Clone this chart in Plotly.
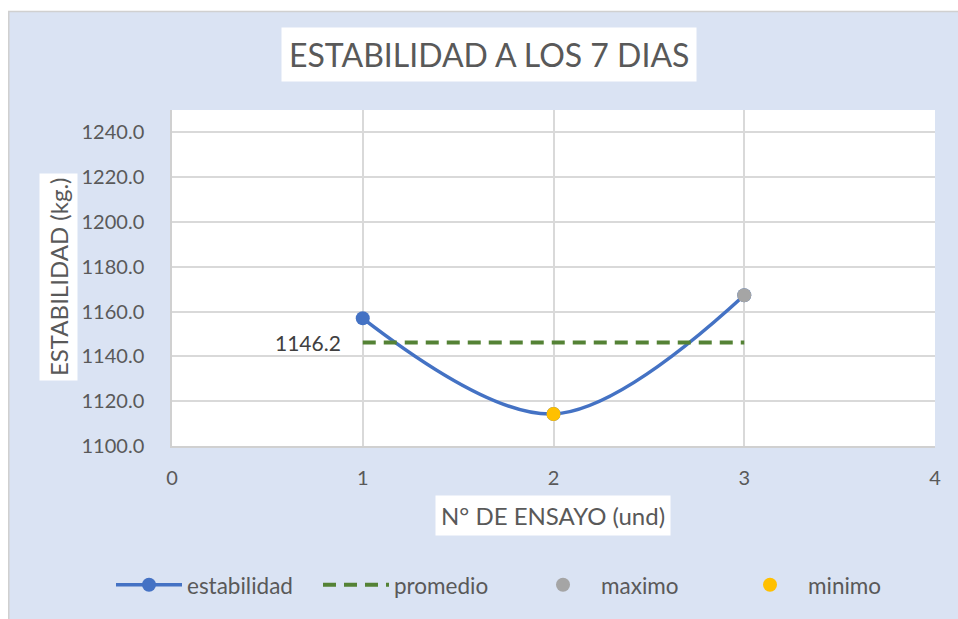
import plotly.graph_objects as go

# ---- data ----
ensayo = [1, 2, 3]
estabilidad = [1157.0, 1114.3, 1167.3]
promedio = [1146.2, 1146.2, 1146.2]
maximo_x = [3]
maximo_y = [1167.3]
minimo_x = [2]
minimo_y = [1114.3]
x_ticks = [0, 1, 2, 3, 4]
y_ticks = [1100, 1120, 1140, 1160, 1180, 1200, 1220, 1240]

W, H = 958, 619
L, R, T, B = 172, 935, 110, 448  # plot area pixels
pw, ph = R - L, B - T

def px(x):  # page pixel -> paper x
    return (x - L) / pw

def py(y):  # page pixel -> paper y
    return (B - y) / ph

FONT = "Lato"
GREY = "#595959"
BG = "#DAE3F3"

fig = go.Figure()

fig.add_trace(go.Scatter(
    x=ensayo, y=estabilidad, name="estabilidad", mode="lines+markers",
    line=dict(color="#4472C4", width=3.5, shape="spline", smoothing=1),
    marker=dict(color="#4472C4", size=14),
))
fig.add_trace(go.Scatter(
    x=ensayo, y=promedio, name="promedio", mode="lines",
    line=dict(color="#548235", width=4, dash="13px,8px"),
))
fig.add_trace(go.Scatter(
    x=maximo_x, y=maximo_y, name="maximo", mode="markers",
    marker=dict(color="#A5A5A5", size=14),
))
fig.add_trace(go.Scatter(
    x=minimo_x, y=minimo_y, name="minimo", mode="markers",
    marker=dict(color="#FFC000", size=14),
))

# data label of the average
fig.add_annotation(
    x=ensayo[0], y=promedio[0], xref="x", yref="y", text=f"{promedio[0]:.1f}",
    showarrow=False, xanchor="right", yanchor="middle", xshift=-20,
    font=dict(family=FONT, size=21, color="#404040"),
)

fig.update_layout(
    width=W, height=H,
    margin=dict(l=L, r=W - R, t=T, b=H - B, pad=0),
    paper_bgcolor=BG,
    plot_bgcolor="white",
    font=dict(family=FONT, size=20, color=GREY),
    showlegend=True,
    legend=dict(
        orientation="h", x=px(111), xanchor="left", y=py(588), yanchor="middle",
        bgcolor="rgba(0,0,0,0)", font=dict(family=FONT, size=22.5, color=GREY),
        entrywidth=126, entrywidthmode="pixels", itemwidth=66,
    ),
    xaxis=dict(
        range=[0, 4], tickvals=x_ticks, showgrid=True, gridcolor="#D9D9D9",
        gridwidth=1.5, zeroline=False, showline=True, linecolor="#D0D0D0",
        linewidth=1.5, ticks="", ticklabelstandoff=13,
        tickfont=dict(family=FONT, size=20, color=GREY),
    ),
    yaxis=dict(
        range=[1100, 1250], tickvals=y_ticks, tickformat=".1f", showgrid=True,
        gridcolor="#D9D9D9", gridwidth=1.5, zeroline=False, showline=True,
        linecolor="#D0D0D0", linewidth=1.5, ticks="", ticklabelstandoff=22,
        tickfont=dict(family=FONT, size=20, color=GREY),
    ),
)

# Title box
fig.add_annotation(
    text="ESTABILIDAD A LOS 7 DIAS", xref="paper", yref="paper",
    x=px(489), y=py(54), xanchor="center", yanchor="middle", showarrow=False,
    font=dict(family=FONT, size=32, color=GREY), bgcolor="white", borderpad=7,
)
# Y axis title box
fig.add_annotation(
    text="ESTABILIDAD (kg.)", xref="paper", yref="paper", textangle=-90,
    x=px(58), y=py(278), xanchor="center", yanchor="middle", showarrow=False,
    font=dict(family=FONT, size=24, color=GREY), bgcolor="white", borderpad=4,
)
# X axis title box
fig.add_annotation(
    text="N° DE ENSAYO (und)", xref="paper", yref="paper",
    x=px(553), y=py(518), xanchor="center", yanchor="middle", showarrow=False,
    font=dict(family=FONT, size=24, color=GREY), bgcolor="white", borderpad=5,
)

# outer white strips + border lines
fig.add_shape(type="rect", xref="paper", yref="paper", x0=px(-5), x1=px(970),
              y0=py(11), y1=py(-5), fillcolor="white", line=dict(width=0), layer="above")
fig.add_shape(type="rect", xref="paper", yref="paper", x0=px(-5), x1=px(8),
              y0=py(640), y1=py(-5), fillcolor="white", line=dict(width=0), layer="above")
fig.add_shape(type="line", xref="paper", yref="paper", x0=px(8), x1=px(970),
              y0=py(11), y1=py(11), line=dict(color="#D0D0D0", width=1.5))
fig.add_shape(type="line", xref="paper", yref="paper", x0=px(8.75), x1=px(8.75),
              y0=py(11), y1=py(640), line=dict(color="#D0D0D0", width=1.5))

fig.write_html(
    "out.html",
    config={"displayModeBar": False},
    post_script=("document.body.style.margin='0';"
                 "document.body.style.overflow='hidden';"
                 "document.documentElement.style.overflow='hidden';"),
)
